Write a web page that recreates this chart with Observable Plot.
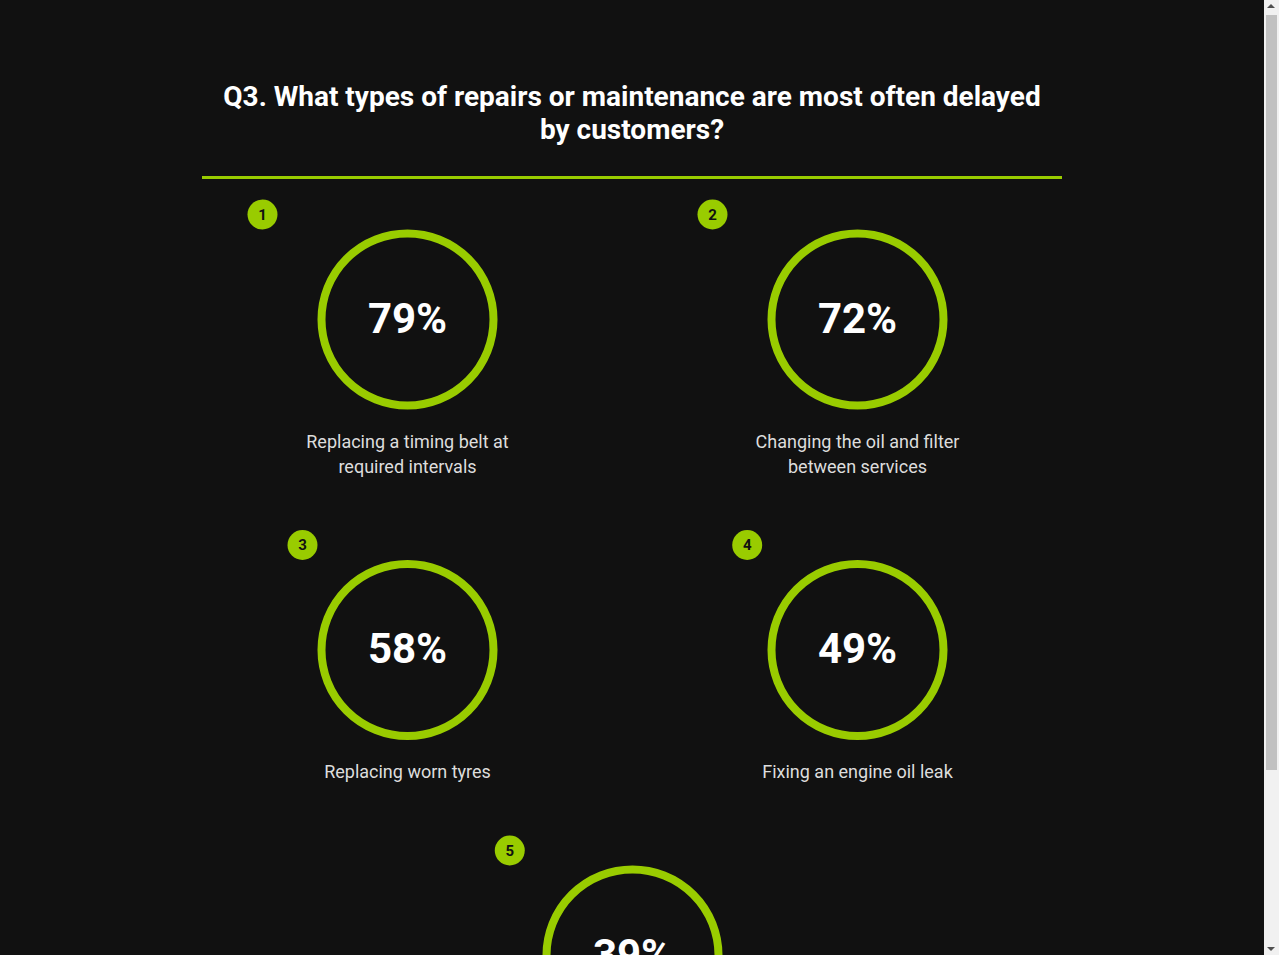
<!DOCTYPE html>
<html>
<head>
<meta charset="utf-8">
<script src="https://cdn.jsdelivr.net/npm/d3@7"></script>
<script src="https://cdn.jsdelivr.net/npm/@observablehq/plot@0.6"></script>
<style>
  html, body { margin: 0; background: #111111; height: 100%; overflow: hidden; }
  body { font-family: Roboto, "Noto Sans", sans-serif; }
  #page { height: 100vh; width: calc(100% - 15px); overflow-y: auto; }
  #sb { position: fixed; right: 0; top: 0; width: 15px; height: 100%; background: #f1f1f1; }
  #sb .thumb { position: absolute; left: 2px; width: 11px; top: 15px; height: 755px; background: #c1c1c1; }
  #sb .up, #sb .down { position: absolute; left: 3px; width: 0; height: 0;
       border-left: 4px solid transparent; border-right: 4px solid transparent; }
  #sb .up { top: 4px; border-bottom: 4px solid #505050; }
  #sb .down { bottom: 4px; border-top: 4px solid #505050; }
  #wrap { width: 860px; margin: 0 auto; padding: 80px 0 30px; }
  h1 { margin: 0; color: #ffffff; font-weight: 700; font-size: 28px; line-height: 33px;
       text-align: center; padding: 0 10px 30px; border-bottom: 3px solid #99cc00; }
  #chart svg { display: block; overflow: visible; }
</style>
</head>
<body>
<div id="page">
<div id="wrap">
  <h1 id="title"></h1>
  <div id="chart"></div>
</div>
</div>
<div id="sb"><div class="up"></div><div class="thumb"></div><div class="down"></div></div>
<script>
// ---- data ----
const title = "Q3. What types of repairs or maintenance are most often delayed by customers?";
const ranks = [1, 2, 3, 4, 5];
const percentages = [79, 72, 58, 49, 39];
const labels = [
  "Replacing a timing belt at required intervals",
  "Changing the oil and filter between services",
  "Replacing worn tyres",
  "Fixing an engine oil leak",
  "Replacing worn brake pads"
];
const columns = 2;

// ---- styles / layout constants ----
const GREEN = "#99cc00";
const LABEL_SIZE = 18;
const LABEL_FONT = `400 ${LABEL_SIZE}px Roboto`;
const RING = 180, PAD = 60, MAX_ITEM = 320, COL_GAP = 450;

document.getElementById("title").textContent = title;

const ctx = document.createElement("canvas").getContext("2d");
ctx.font = LABEL_FONT;
function wrap(text, maxW) {
  const words = text.split(" ");
  const lines = [];
  let cur = "";
  for (const w of words) {
    const t = cur ? cur + " " + w : w;
    if (cur && ctx.measureText(t).width > maxW) { lines.push(cur); cur = w; }
    else cur = t;
  }
  if (cur) lines.push(cur);
  return lines;
}

const items = ranks.map((rank, i) => {
  const full = ctx.measureText(labels[i]).width;
  const itemW = Math.min(Math.max(RING, full) + PAD, MAX_ITEM);
  const lines = wrap(labels[i], itemW - PAD);
  return { rank, pct: percentages[i], text: lines.join("\n"), nLines: lines.length,
           itemW, row: Math.floor(i / columns), idx: i % columns };
});

// row layout
const nRows = Math.ceil(items.length / columns);
let rowTop = 20;
for (let r = 0; r < nRows; r++) {
  const rowItems = items.filter(d => d.row === r);
  const maxLines = d3.max(rowItems, d => d.nLines);
  const n = rowItems.length;
  rowItems.forEach((d, j) => {
    d.cx = j - (n - 1) / 2;                 // column position in column units
    d.cy = rowTop + 120;
    d.bx = d.cx - (d.itemW / 2 - 15) / COL_GAP;
    d.by = rowTop + 15;
    d.ly = rowTop + 240 + (d.nLines - 1) * 12.5;
  });
  rowTop += 280.5 + 25 * maxLines;
}
const H = 960;

const chart = Plot.plot({
  width: 860,
  height: H,
  margin: 0,
  style: { background: "transparent", fontFamily: "Roboto, sans-serif", overflow: "visible" },
  x: { domain: [-0.5, 0.5], range: [205, 655], axis: null },
  y: { domain: [0, H], range: [0, H], axis: null },
  marks: [
    Plot.dot(items, { x: "cx", y: "cy", r: 86, stroke: GREEN, strokeWidth: 8, fill: "none" }),
    Plot.text(items, { x: "cx", y: "cy", text: d => d.pct + "%", fill: "#ffffff",
                       fontSize: 42, fontWeight: 700 }),
    Plot.dot(items, { x: "bx", y: "by", r: 15, fill: GREEN, stroke: "none" }),
    Plot.text(items, { x: "bx", y: "by", text: d => String(d.rank), fill: "#111111",
                       fontSize: 15, fontWeight: 700, dy: 0.5 }),
    Plot.text(items, { x: "cx", y: "ly", text: "text", fill: "#dddddd",
                       fontSize: LABEL_SIZE, lineHeight: 25 / LABEL_SIZE })
  ]
});
document.getElementById("chart").appendChild(chart);
</script>
</body>
</html>
